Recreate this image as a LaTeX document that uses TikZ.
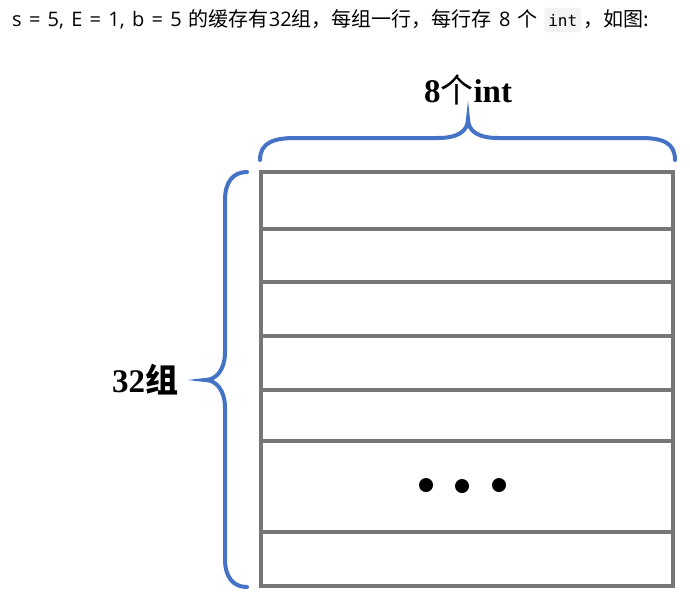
\documentclass[tikz,border=0pt]{standalone}
\usepackage{fontspec}
\setmainfont{Liberation Serif}
\setsansfont{Open Sans}[WordSpace=1.4]
\setmonofont{DejaVu Sans Mono}
\newfontfamily\cjkfont{Noto Sans CJK SC}
\definecolor{bracecolor}{RGB}{68,114,196}
\definecolor{rowcolor}{RGB}{118,118,118}
\definecolor{codebg}{RGB}{243,243,243}
\begin{document}
\begin{tikzpicture}[x=1pt,y=-1pt,
		row/.style={draw=rowcolor,line width=4.5pt},
		brace/.style={draw=bracecolor,line width=4pt,line cap=round},
		label/.style={font=\fontsize{33}{36}\selectfont\bfseries},
		intro/.style={font=\sffamily\fontsize{20}{24}\selectfont,inner sep=0pt}]
		\fill[white] (0,0) rectangle (690,595);
		\useasboundingbox (0,0) rectangle (690,595);
		\node[intro,anchor=base west] (introhead) at (12,26) {s = 5, E = 1, b = 5 {\cjkfont 的缓存有}32{\cjkfont 组，每组一行，每行存} 8 {\cjkfont 个}};
		\node[intro,anchor=base west,fill=codebg,rounded corners=2pt,inner xsep=4pt,inner ysep=6pt,font=\ttfamily\fontsize{16}{19}\selectfont] (introcode) at ([xshift=6pt]introhead.base east) {int};
		\node[intro,anchor=base west] (introtail) at ([xshift=2pt]introcode.base east) {\cjkfont ，如图:};
		\draw[row] (261,172) rectangle (673,586);
		\foreach \y in {229,282,336,390,441,532}
			\draw[row] (261,\y) -- (673,\y);
		\fill (426,485) circle[radius=7];
		\fill (462,486) circle[radius=7];
		\fill (499,485) circle[radius=7];
		\draw[brace] (260,160) .. controls (260,143) and (273,138) .. (295,138)
		-- (438,138) .. controls (458,138) and (468,131) .. (468,119)
		.. controls (468,131) and (478,138) .. (498,138)
		-- (641,138) .. controls (663,138) and (675,143) .. (675,160);
		\draw[brace] (247,172) .. controls (233,172) and (225,182) .. (225,200)
		-- (225,352) .. controls (225,370) and (216,380) .. (205,380)
		.. controls (216,380) and (225,390) .. (225,408)
		-- (225,559) .. controls (225,577) and (233,587) .. (247,587);
		\node[label] (cols) at (468,90) {8{\cjkfont\mdseries 个}int};
		\node[label] (sets) at (145,380) {32{\cjkfont 组}};
\end{tikzpicture}
\end{document}
